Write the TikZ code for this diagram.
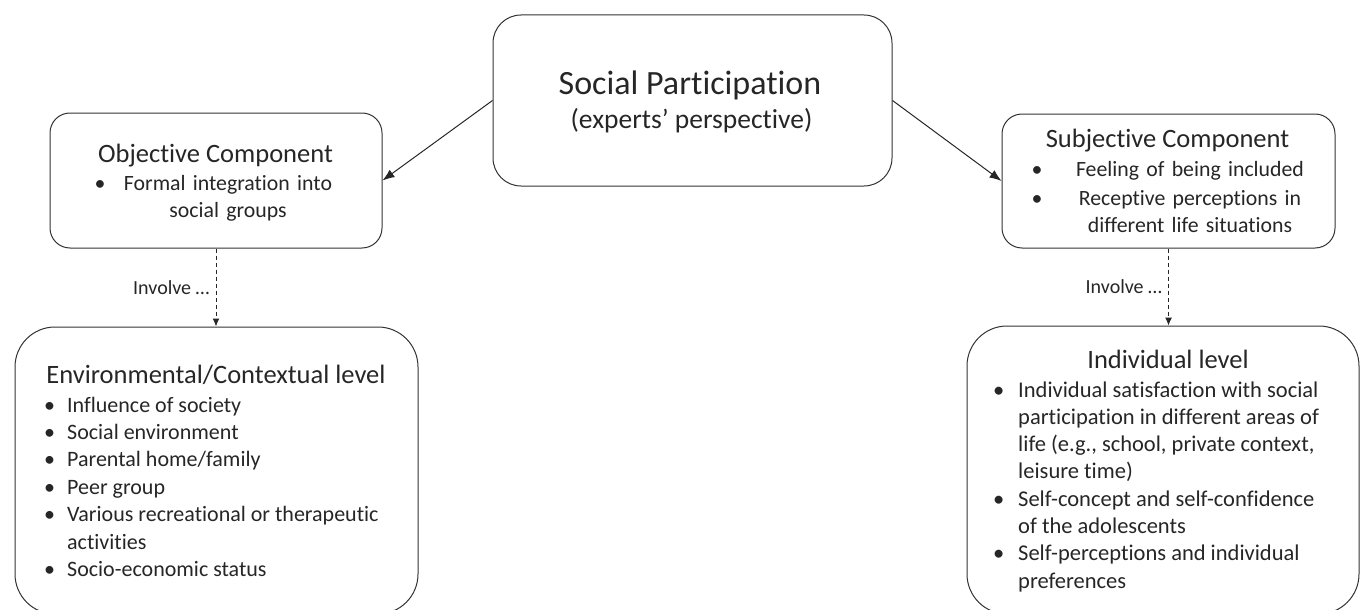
\documentclass[tikz,border=0pt]{standalone}
\usepackage{fontspec}
\setmainfont{Carlito}[Ligatures={NoCommon}]
\usetikzlibrary{arrows.meta,positioning}

\def\lw{1pt}

\tikzset{
  box/.style={draw=black!80,line width=\lw,rounded corners=#1,inner sep=0pt},
  txt/.style={inner sep=0pt,text=black!85},
  bigtitle/.style={txt,font=\fontsize{34}{40}\selectfont},
  subtitle/.style={txt,font=\fontsize{27.5}{32}\selectfont},
  comptitle/.style={txt,font=\fontsize{26.5}{31}\selectfont},
  leveltitle/.style={txt,font=\fontsize{26.5}{31}\selectfont},
  compbody/.style={txt,font=\fontsize{21.8}{27}\selectfont},
  envbody/.style={txt,font=\fontsize{22}{27.4}\selectfont},
  indbody/.style={txt,font=\fontsize{22.5}{27.3}\selectfont},
  arr/.style={draw=black!85,line width=\lw,-{Latex[length=12pt,width=9pt]}},
  dasharr/.style={draw=black!85,line width=\lw,dash pattern=on 4pt off 3pt,-{Latex[length=8pt,width=7pt]}},
  involve/.style={txt,font=\fontsize{20}{24}\selectfont,left=6pt}
}

\begin{document}
\begin{tikzpicture}[x=1pt,y=-1pt]
\useasboundingbox (0,0) rectangle (1360,610);

\node[box=28pt,minimum width=399pt,minimum height=171pt] (sp) at (692.5,100.5) {};
\node[box=20pt,minimum width=332pt,minimum height=135pt] (obj) at (216,180.5) {};
\node[box=20pt,minimum width=333pt,minimum height=134pt] (subj) at (1168.5,181) {};
\node[box=40pt,minimum width=403pt,minimum height=287pt] (env) at (216.5,470.5) {};
\node[box=40pt,minimum width=392pt,minimum height=288pt] (ind) at (1163,470) {};

\node[bigtitle,anchor=base] (sptitle) at (690,95) {Social Participation};
\node[subtitle,anchor=base] (spsub) at (691.5,128) {(experts’ perspective)};

\node[comptitle,anchor=base] (objtitle) at (215.5,162) {Objective Component};
\node[compbody,anchor=base] (objbul) at (100,190) {\textbullet};
\node[compbody,anchor=base,text width=240pt,align=center] (objitems) at (228,190)
  {Formal integration into\\ social groups};

\node[comptitle,anchor=base] (subjtitle) at (1167.5,147) {Subjective Component};
\node[compbody,anchor=base,text width=20pt,align=center] (subjbul) at (1037,176)
  {\textbullet\\[2.5pt] \textbullet};
\node[compbody,anchor=base,text width=250pt,align=center] (subjitems) at (1190,176)
  {Feeling of being included\\[2.5pt] Receptive perceptions in\\ different life situations};

\node[leveltitle,anchor=base] (envtitle) at (216,383) {Environmental/Contextual level};
\node[envbody,anchor=base west] (envitems) at (44,412)
  {\begin{tabular}[t]{@{}p{23pt}@{}l@{}}
   \textbullet & Influence of society\\
   \textbullet & Social environment\\
   \textbullet & Parental home/family\\
   \textbullet & Peer group\\
   \textbullet & Various recreational or therapeutic\\
               & activities\\
   \textbullet & Socio-economic status
   \end{tabular}};

\node[leveltitle,anchor=base] (indtitle) at (1168,368) {Individual level};
\node[indbody,anchor=base west] (inditems) at (993,397)
  {\begin{tabular}[t]{@{}p{25pt}@{}l@{}}
   \textbullet & Individual satisfaction with social\\
               & participation in different areas of\\
               & life (e.g., school, private context,\\
               & leisure time)\\
   \textbullet & Self-concept and self-confidence\\
               & of the adolescents\\
   \textbullet & Self-perceptions and individual\\
               & preferences
   \end{tabular}};

\draw[arr] (sp.west) -- (obj.east);
\draw[arr] (sp.east) -- (subj.west);
\draw[dasharr] (obj.south) -- node[involve] {Involve …} (obj.south |- env.north);
\draw[dasharr] (subj.south) -- node[involve] {Involve …} (subj.south |- ind.north);
\end{tikzpicture}
\end{document}
